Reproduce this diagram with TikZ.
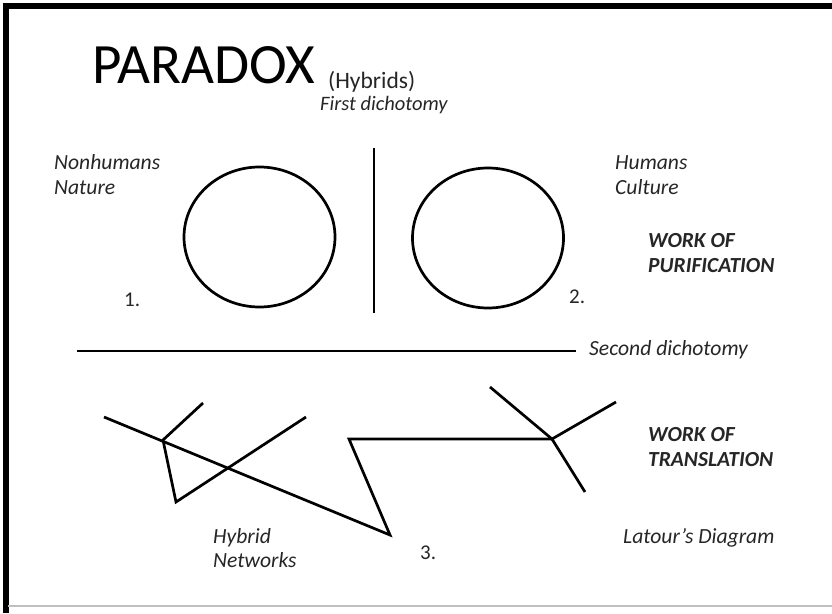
\documentclass[tikz,border=0pt]{standalone}
\usepackage{fontspec}
\setmainfont{Carlito}
\usetikzlibrary{shapes.geometric}
\begin{document}
\begin{tikzpicture}[x=1pt,y=-1pt,
  lbl/.style={font=\fontsize{21.6}{24}\selectfont\itshape, anchor=base west, inner sep=0pt, text=black!85},
  bld/.style={font=\fontsize{21.5}{24}\selectfont\bfseries\itshape, anchor=base west, inner sep=0pt, text=black!85},
  num/.style={font=\fontsize{21}{24}\selectfont, anchor=base west, inner sep=0pt, text=black!85},
  ln/.style={line width=2.7pt, line join=miter, black},
  ring/.style={ellipse, draw, line width=2.7pt, minimum width=151pt, minimum height=140pt, inner sep=0pt}]
\useasboundingbox (0,0) rectangle (832,613);
\fill[white] (0,0) rectangle (832,613);
% frame
\fill[black] (3,3) rectangle (832,8.5);
\fill[black] (3,3) rectangle (8.5,613);
\fill[black!25] (8,605) rectangle (832,607);
% title
\node[anchor=base west, inner sep=0pt, font=\fontsize{57}{62}\selectfont] (title) at (92,83) {PARADOX};
\node[anchor=base west, inner sep=0pt, font=\fontsize{23.5}{26}\selectfont, text=black!85] (hyb) at (328,88) {(Hybrids)};
\node[lbl, font=\fontsize{20.5}{22}\selectfont\itshape] (first) at (320,110) {First dichotomy};
% top section
\node[lbl] (nonh) at (54,169) {Nonhumans};
\node[lbl] (nat) at (54,194) {Nature};
\node[lbl] (hum) at (615,169) {Humans};
\node[lbl] (cul) at (615,194) {Culture};
\node[bld] (wo1) at (648,247) {WORK OF};
\node[bld] (pur) at (648,272) {PURIFICATION};
\node[ring] (c1) at (259.5,237) {};
\node[ring] (c2) at (488,238) {};
\node[num] (n1) at (124,306) {1.};
\node[num] (n2) at (569,303) {2.};
\coordinate (vt) at (374,148);
\coordinate (vb) at (374,313);
\draw[ln] (vt) -- (vb);
\coordinate (hl) at (77,351);
\coordinate (hr) at (576,351);
\draw[ln] (hl) -- (hr);
\node[lbl] (sec) at (589,355) {Second dichotomy};
% network
\coordinate (a1) at (104,417);
\coordinate (a2) at (390,535);
\coordinate (b1) at (163,440);
\coordinate (b2) at (203,403);
\coordinate (b3) at (176,502);
\coordinate (b4) at (306,417);
\coordinate (d1) at (349,439);
\coordinate (hub) at (552,439);
\coordinate (e1) at (490,387);
\coordinate (e2) at (616,402);
\coordinate (e3) at (585,492);
\draw[ln] (a1) -- (a2) -- (d1) -- (hub);
\draw[ln] (b2) -- (b1) -- (b3) -- (b4);
\draw[ln] (e1) -- (hub) -- (e2);
\draw[ln] (hub) -- (e3);
\node[bld] (wo2) at (648,441) {WORK OF};
\node[bld] (tra) at (648,466) {TRANSLATION};
\node[lbl] (hy) at (213,543) {Hybrid};
\node[lbl] (net) at (213,567) {Networks};
\node[num] (n3) at (420,559) {3.};
\node[lbl] (lat) at (623,543) {Latour’s Diagram};
\end{tikzpicture}
\end{document}
